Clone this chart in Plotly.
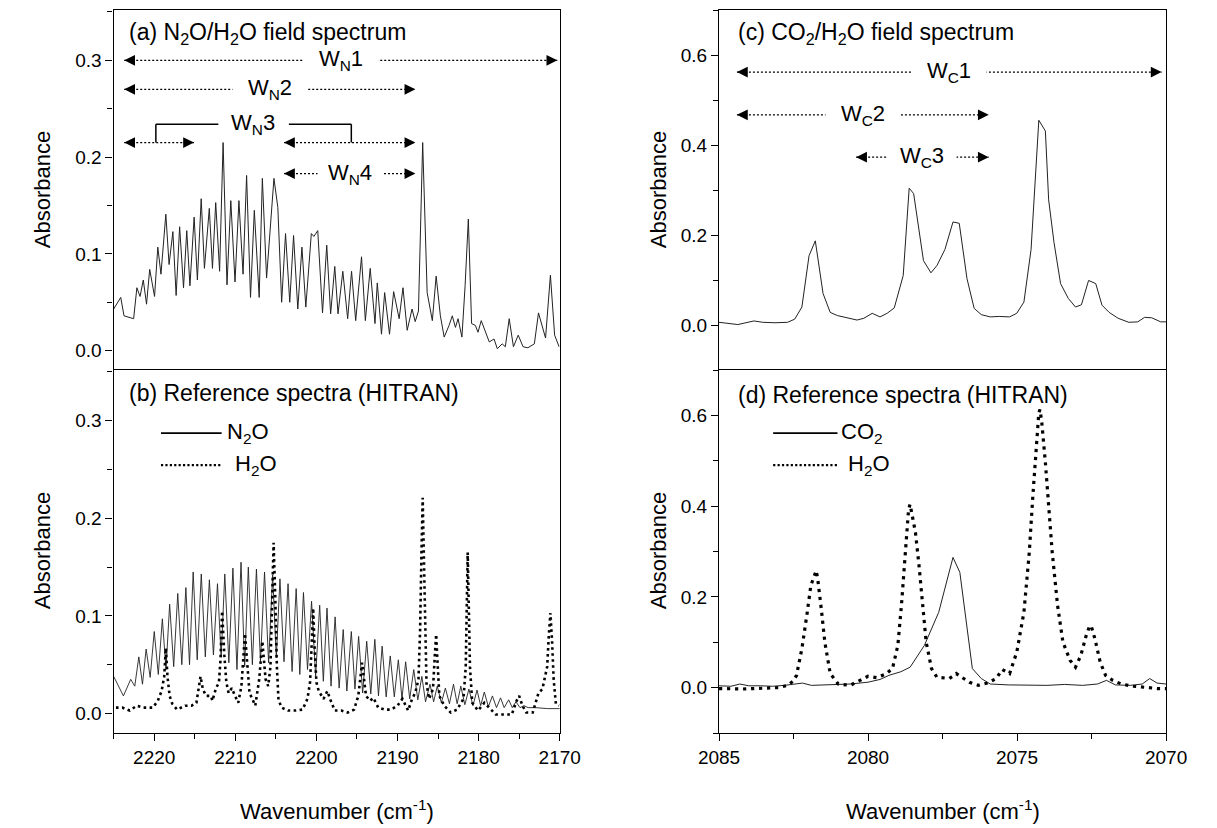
import plotly.graph_objects as go

# ---------------- data ----------------
# (a) N2O/H2O field spectrum
wn_a = [2225.00, 2224.13, 2223.73, 2222.94, 2222.54, 2222.14, 2221.75, 2221.35, 2220.95, 2220.56,
        2219.96, 2219.56, 2219.17, 2218.57, 2218.17, 2217.70, 2217.30, 2216.87, 2216.39, 2215.99,
        2215.60, 2215.08, 2214.68, 2214.21, 2213.81, 2213.21, 2212.82, 2212.42, 2211.94, 2211.51,
        2211.03, 2210.56, 2210.04, 2209.56, 2209.05, 2208.61, 2208.13, 2207.66, 2207.06, 2206.67,
        2206.15, 2205.24, 2204.76, 2204.29, 2203.81, 2203.29, 2202.82, 2202.30, 2201.79, 2201.31,
        2200.63, 2200.32, 2199.84, 2199.25, 2198.73, 2198.25, 2197.74, 2197.34, 2196.75, 2196.15,
        2195.67, 2195.16, 2194.44, 2193.97, 2193.37, 2192.78, 2192.50, 2191.98, 2191.59, 2190.99,
        2190.48, 2189.80, 2189.33, 2188.81, 2188.21, 2187.82, 2187.42, 2186.90, 2186.35, 2185.71,
        2185.24, 2184.72, 2184.25, 2183.65, 2183.25, 2182.86, 2182.54, 2182.06, 2181.67, 2181.27,
        2180.87, 2180.40, 2180.08, 2179.68, 2179.29, 2178.69, 2178.10, 2177.70, 2177.10, 2176.71,
        2176.23, 2175.71, 2175.12, 2174.52, 2173.93, 2173.13, 2172.62, 2171.75, 2171.15, 2170.63,
        2170.08]
abs_a = [0.043, 0.055, 0.036, 0.034, 0.033, 0.065, 0.056, 0.073, 0.048, 0.084,
         0.056, 0.107, 0.079, 0.141, 0.089, 0.123, 0.057, 0.128, 0.065, 0.124,
         0.067, 0.138, 0.073, 0.157, 0.085, 0.147, 0.085, 0.153, 0.082, 0.215,
         0.068, 0.155, 0.071, 0.155, 0.079, 0.181, 0.055, 0.145, 0.055, 0.178,
         0.075, 0.178, 0.148, 0.050, 0.121, 0.050, 0.119, 0.043, 0.107, 0.045,
         0.121, 0.118, 0.124, 0.039, 0.109, 0.038, 0.087, 0.038, 0.082, 0.033,
         0.082, 0.031, 0.097, 0.031, 0.085, 0.028, 0.070, 0.017, 0.060, 0.017,
         0.061, 0.033, 0.065, 0.021, 0.043, 0.030, 0.041, 0.215, 0.060, 0.031,
         0.077, 0.036, 0.014, 0.026, 0.036, 0.024, 0.033, 0.014, 0.067, 0.136,
         0.028, 0.026, 0.019, 0.031, 0.022, 0.009, 0.012, 0.002, 0.007, 0.004,
         0.033, 0.004, 0.016, 0.004, 0.003, 0.007, 0.039, 0.013, 0.078, 0.016,
         0.004]

# (b) HITRAN reference: N2O
wn_b_n2o = [2225.0, 2223.8,
            2222.9, 2222.4, 2221.9, 2221.45, 2221.0, 2220.5, 2220.0, 2219.5, 2219.0, 2218.55,
            2218.1, 2217.6, 2217.1, 2216.6, 2216.1, 2215.65, 2215.2, 2214.7, 2214.2, 2213.7,
            2213.2, 2212.7, 2212.2, 2211.75, 2211.3, 2210.8, 2210.3, 2209.8, 2209.3, 2208.85,
            2208.4, 2207.9, 2207.4, 2206.9, 2206.4, 2205.9, 2205.4, 2204.95, 2204.5, 2204.0,
            2203.5, 2203.0, 2202.5, 2202.05, 2201.6, 2201.1, 2200.6, 2200.1, 2199.6, 2199.15,
            2198.7, 2198.2, 2197.7, 2197.2, 2196.7, 2196.25, 2195.7, 2195.25, 2194.8, 2194.3,
            2193.8, 2193.3, 2192.8, 2192.35, 2191.9, 2191.4, 2190.9, 2190.4, 2189.9, 2189.45,
            2189.0, 2188.5, 2188.0, 2187.5, 2187.0, 2186.55, 2186.0, 2185.55, 2185.1, 2184.6,
            2184.1, 2183.6, 2183.1, 2182.65, 2182.2, 2181.7, 2181.2, 2180.7, 2180.2, 2179.75,
            2179.3, 2178.8, 2178.3, 2177.8, 2177.3, 2176.85, 2176.3, 2175.85, 2175.4, 2174.9,
            2174.4, 2173.9, 2173.0, 2171.5, 2170.0]
abs_b_n2o = [0.038, 0.018,
             0.035, 0.028, 0.058, 0.030, 0.066, 0.037, 0.084, 0.040, 0.097, 0.045,
             0.112, 0.048, 0.123, 0.050, 0.129, 0.050, 0.145, 0.055, 0.143, 0.058,
             0.137, 0.060, 0.133, 0.058, 0.143, 0.052, 0.149, 0.045, 0.155, 0.048,
             0.150, 0.050, 0.148, 0.053, 0.145, 0.052, 0.142, 0.057, 0.138, 0.053,
             0.133, 0.043, 0.128, 0.040, 0.124, 0.045, 0.115, 0.038, 0.111, 0.033,
             0.108, 0.028, 0.099, 0.026, 0.086, 0.023, 0.084, 0.025, 0.079, 0.021,
             0.074, 0.020, 0.076, 0.018, 0.069, 0.017, 0.059, 0.017, 0.055, 0.015,
             0.053, 0.015, 0.045, 0.014, 0.038, 0.012, 0.030, 0.012, 0.028, 0.011,
             0.026, 0.010, 0.030, 0.010, 0.028, 0.009, 0.025, 0.008, 0.024, 0.008,
             0.022, 0.007, 0.018, 0.006, 0.016, 0.006, 0.014, 0.006, 0.012, 0.006,
             0.008, 0.006, 0.006, 0.005, 0.005]

# (b) HITRAN reference: H2O
wn_b_h2o = [2224.72, 2223.93, 2223.02, 2222.14, 2221.35, 2220.16, 2219.56, 2219.09, 2218.77, 2218.57,
            2218.37, 2218.10, 2217.78, 2217.18, 2216.19, 2215.40, 2214.80, 2214.52, 2214.29, 2214.01,
            2213.61, 2213.02, 2212.82, 2212.42, 2212.02, 2211.83, 2211.63, 2211.35, 2211.11, 2210.83,
            2210.44, 2210.04, 2209.64, 2209.25, 2208.97, 2208.81, 2208.57, 2208.25, 2207.86, 2207.54,
            2207.06, 2206.67, 2206.27, 2205.95, 2205.67, 2205.48, 2205.28, 2205.08, 2204.88, 2204.68,
            2204.29, 2203.49, 2202.62, 2201.71, 2201.11, 2200.79, 2200.60, 2200.40, 2200.24, 2200.00,
            2199.72, 2199.13, 2198.65, 2198.33, 2197.74, 2196.94, 2196.15, 2195.36, 2194.84, 2194.52,
            2194.37, 2194.13, 2193.89, 2193.37, 2192.98, 2192.38, 2191.59, 2190.79, 2190.00, 2189.40,
            2189.01, 2188.69, 2188.21, 2187.82, 2187.42, 2187.22, 2187.06, 2186.90, 2186.75, 2186.59,
            2186.43, 2186.11, 2185.63, 2185.40, 2185.24, 2185.04, 2184.84, 2184.25, 2183.45, 2182.66,
            2181.87, 2181.59, 2181.47, 2181.35, 2181.19, 2181.07, 2180.79, 2180.08, 2179.29, 2178.69,
            2177.90, 2176.90, 2175.91, 2175.32, 2175.00, 2174.60, 2174.13, 2173.33, 2172.62, 2172.14,
            2171.55, 2171.35, 2171.15, 2170.95, 2170.75, 2170.48, 2170.08]
abs_b_h2o = [0.006, 0.006, 0.003, 0.008, 0.006, 0.006, 0.013, 0.023, 0.038, 0.067,
             0.038, 0.018, 0.010, 0.004, 0.008, 0.008, 0.011, 0.025, 0.038, 0.025,
             0.018, 0.018, 0.013, 0.025, 0.032, 0.055, 0.105, 0.059, 0.032, 0.021,
             0.026, 0.018, 0.011, 0.028, 0.062, 0.082, 0.055, 0.021, 0.014, 0.008,
             0.035, 0.074, 0.035, 0.028, 0.048, 0.110, 0.175, 0.120, 0.048, 0.014,
             0.006, 0.003, 0.003, 0.004, 0.015, 0.032, 0.070, 0.108, 0.070, 0.032,
             0.023, 0.015, 0.023, 0.015, 0.003, 0.003, 0.001, 0.004, 0.018, 0.042,
             0.052, 0.035, 0.018, 0.013, 0.016, 0.006, 0.004, 0.004, 0.008, 0.015,
             0.008, 0.003, 0.015, 0.021, 0.035, 0.085, 0.160, 0.221, 0.160, 0.085,
             0.031, 0.015, 0.025, 0.060, 0.081, 0.048, 0.018, 0.008, 0.001, 0.004,
             0.015, 0.048, 0.110, 0.165, 0.100, 0.048, 0.011, 0.003, 0.011, 0.006,
             -0.001, -0.001, -0.001, 0.013, 0.018, 0.008, 0.001, 0.001, 0.021, 0.025,
             0.048, 0.080, 0.103, 0.075, 0.035, 0.010, 0.008]

# (c) CO2/H2O field spectrum
wn_c = [2085.00, 2084.79, 2084.37, 2083.83, 2083.53, 2083.12, 2082.70, 2082.46, 2082.22, 2081.98,
        2081.77, 2081.51, 2081.27, 2081.03, 2080.73, 2080.37, 2080.14, 2079.86, 2079.60, 2079.36,
        2079.12, 2078.82, 2078.62, 2078.47, 2078.14, 2077.89, 2077.69, 2077.42, 2077.15, 2076.94,
        2076.68, 2076.44, 2076.20, 2075.90, 2075.60, 2075.25, 2075.01, 2074.77, 2074.53, 2074.27,
        2074.05, 2073.94, 2073.76, 2073.54, 2073.28, 2073.04, 2072.84, 2072.60, 2072.36, 2072.15,
        2071.91, 2071.61, 2071.25, 2070.95, 2070.72, 2070.48, 2070.18, 2070.00]
abs_c = [0.006, 0.004, 0.001, 0.009, 0.006, 0.005, 0.006, 0.013, 0.040, 0.154,
         0.187, 0.070, 0.028, 0.021, 0.016, 0.011, 0.015, 0.026, 0.018, 0.026,
         0.038, 0.110, 0.304, 0.292, 0.143, 0.116, 0.132, 0.168, 0.229, 0.226,
         0.103, 0.037, 0.023, 0.018, 0.019, 0.018, 0.026, 0.051, 0.168, 0.455,
         0.431, 0.278, 0.183, 0.092, 0.059, 0.040, 0.045, 0.099, 0.092, 0.044,
         0.028, 0.015, 0.006, 0.007, 0.017, 0.016, 0.007, 0.007]

# (d) HITRAN reference: CO2
wn_d_co2 = [2085.0, 2084.6, 2084.3, 2084.0, 2083.6, 2083.2, 2082.8, 2082.2, 2081.9, 2081.2,
            2080.6, 2080.0, 2079.6, 2079.3, 2078.9, 2078.59, 2078.11, 2077.63, 2077.33, 2077.15,
            2076.92, 2076.74, 2076.5, 2076.2, 2075.9, 2075.3, 2074.6, 2074.0, 2073.4, 2072.8,
            2072.3, 2072.0, 2071.7, 2071.2, 2070.8, 2070.55, 2070.3, 2070.0]
abs_d_co2 = [0.004, 0.003, 0.008, 0.004, 0.004, 0.003, 0.005, 0.010, 0.005, 0.006,
             0.008, 0.012, 0.018, 0.027, 0.035, 0.045, 0.093, 0.166, 0.240, 0.287,
             0.254, 0.166, 0.042, 0.020, 0.008, 0.006, 0.006, 0.005, 0.007, 0.005,
             0.008, 0.016, 0.006, 0.005, 0.008, 0.020, 0.010, 0.008]

# (d) HITRAN reference: H2O
wn_d_h2o = [2085.0, 2084.6, 2084.2, 2083.8, 2083.4, 2083.0, 2082.7, 2082.5, 2082.4, 2082.22,
            2082.04, 2081.92, 2081.74, 2081.69, 2081.57, 2081.45, 2081.27, 2081.0, 2080.6, 2080.3,
            2080.0, 2079.7, 2079.4, 2079.18, 2079.0, 2078.88, 2078.76, 2078.64, 2078.59, 2078.53,
            2078.41, 2078.29, 2078.17, 2078.05, 2077.87, 2077.69, 2077.27, 2077.04, 2076.86, 2076.6,
            2076.3, 2076.0, 2075.7, 2075.5, 2075.25, 2075.01, 2074.77, 2074.59, 2074.47, 2074.35,
            2074.27, 2074.23, 2074.17, 2074.05, 2073.94, 2073.82, 2073.64, 2073.46, 2073.22, 2073.04,
            2072.86, 2072.68, 2072.56, 2072.50, 2072.39, 2072.21, 2072.03, 2071.79, 2071.5, 2071.1,
            2070.6, 2070.3, 2070.0]
abs_d_h2o = [-0.002, -0.003, -0.003, -0.002, -0.001, 0.000, 0.005, 0.015, 0.027, 0.086,
             0.166, 0.225, 0.258, 0.240, 0.174, 0.100, 0.031, 0.008, 0.005, 0.015,
             0.025, 0.022, 0.030, 0.042, 0.093, 0.181, 0.298, 0.393, 0.404, 0.386,
             0.342, 0.269, 0.174, 0.100, 0.042, 0.023, 0.020, 0.031, 0.023, 0.012,
             0.005, 0.010, 0.020, 0.040, 0.031, 0.078, 0.166, 0.298, 0.423, 0.533,
             0.606, 0.613, 0.584, 0.496, 0.401, 0.298, 0.181, 0.100, 0.060, 0.045,
             0.071, 0.115, 0.137, 0.133, 0.108, 0.056, 0.027, 0.016, 0.008, 0.003,
             0.000, -0.002, -0.002]

# analysis windows: (label, start, end, level)
n_windows = [("W<sub>N</sub>1", 2223.7, 2170.3, 0.300),
             ("W<sub>N</sub>2", 2223.7, 2187.8, 0.270),
             ("W<sub>N</sub>4", 2204.0, 2187.8, 0.183)]
n_window3 = [(2223.7, 2215.1), (2204.0, 2187.8)]
c_windows = [("W<sub>C</sub>1", 2084.4, 2070.15, 0.562),
             ("W<sub>C</sub>2", 2084.4, 2075.95, 0.467),
             ("W<sub>C</sub>3", 2080.4, 2075.95, 0.373)]

FONT = "Liberation Sans, Arial, sans-serif"
W, H = 1217, 828
LEFT = [96 / W, 558 / W]
RIGHT = [723 / W, 1186 / W]
TOP = [1 - 370 / H, 1 - 10 / H]
BOT = [1 - 733 / H, 1 - 370 / H]

fig = go.Figure()

line_thin = dict(color="#222222", width=1)
fig.add_trace(go.Scatter(x=wn_a, y=abs_a, mode="lines", line=line_thin, xaxis="x", yaxis="y"))
fig.add_trace(go.Scatter(x=wn_b_n2o, y=abs_b_n2o, mode="lines", line=dict(color="#222222", width=0.9),
                         xaxis="x2", yaxis="y2"))
fig.add_trace(go.Scatter(x=wn_b_h2o, y=abs_b_h2o, mode="lines",
                         line=dict(color="black", width=2.6, dash="2.6px,3.4px"), xaxis="x2", yaxis="y2"))
fig.add_trace(go.Scatter(x=wn_c, y=abs_c, mode="lines", line=line_thin, xaxis="x3", yaxis="y3"))
fig.add_trace(go.Scatter(x=wn_d_co2, y=abs_d_co2, mode="lines", line=line_thin, xaxis="x4", yaxis="y4"))
fig.add_trace(go.Scatter(x=wn_d_h2o, y=abs_d_h2o, mode="lines",
                         line=dict(color="black", width=3.2, dash="3.2px,4.8px"), xaxis="x4", yaxis="y4"))

shapes = []
annotations = []
dotted = dict(color="black", width=1.2, dash="2px,2px")
label_font = dict(family=FONT, size=22, color="black")


def add_arrow(xr, yr, x0, x1, y):
    """dotted double arrow from x0 to x1 (x0 on the left of the plot)"""
    shapes.append(dict(type="line", xref=xr, yref=yr, x0=x0, x1=x1, y0=y, y1=y, line=dotted))
    for xt, ax in ((x0, 12), (x1, -12)):
        annotations.append(dict(x=xt, y=y, xref=xr, yref=yr, ax=ax, ay=0, axref="pixel", ayref="pixel",
                                text="", showarrow=True, arrowhead=2, arrowsize=1.8, arrowwidth=1.2,
                                arrowcolor="black"))


def add_window(xr, yr, label, x0, x1, y, half_gap):
    mid = (x0 + x1) / 2
    add_arrow(xr, yr, x0, x1, y)
    # white box under the label breaks the dotted line
    annotations.append(dict(x=mid, y=y, xref=xr, yref=yr, text=label, showarrow=False,
                            xanchor="center", yanchor="middle",
                            font=label_font, bgcolor="white", borderpad=0,
                            width=half_gap * 2, align="center"))


for lab, x0, x1, y in n_windows:
    add_window("x", "y", lab, x0, x1, y, 37 if lab.endswith("1") or lab.endswith("2") else 32)
for x0, x1 in n_window3:
    add_arrow("x", "y", x0, x1, 0.215)
# bracket joining the two W_N3 parts
br = dict(color="black", width=1.5)
shapes.append(dict(type="line", xref="x", yref="y", x0=2219.8, x1=2219.8, y0=0.215, y1=0.234, line=br))
shapes.append(dict(type="line", xref="x", yref="y", x0=2219.8, x1=2212.1, y0=0.234, y1=0.234, line=br))
shapes.append(dict(type="line", xref="x", yref="y", x0=2203.4, x1=2195.7, y0=0.234, y1=0.234, line=br))
shapes.append(dict(type="line", xref="x", yref="y", x0=2195.7, x1=2195.7, y0=0.234, y1=0.215, line=br))
annotations.append(dict(x=2207.8, y=0.234, xref="x", yref="y", text="W<sub>N</sub>3", showarrow=False,
                        xanchor="center", yanchor="middle", font=label_font))

for lab, x0, x1, y in c_windows:
    add_window("x3", "y3", lab, x0, x1, y, 37 if lab.endswith("1") or lab.endswith("2") else 34)

# panel titles
titles = [("x", "y", 0.03, 0.936, "(a) N<sub>2</sub>O/H<sub>2</sub>O field spectrum"),
          ("x2", "y2", 0.03, 0.936, "(b) Reference spectra (HITRAN)"),
          ("x3", "y3", 0.038, 0.936, "(c) CO<sub>2</sub>/H<sub>2</sub>O field spectrum"),
          ("x4", "y4", 0.038, 0.931, "(d) Reference spectra (HITRAN)")]
for xr, yr, x, y, t in titles:
    annotations.append(dict(x=x, y=y, xref=xr + " domain", yref=yr + " domain", text=t, showarrow=False,
                            xanchor="left", yanchor="middle", font=dict(family=FONT, size=23, color="black")))

# hand-made legends in (b) and (d)
legends = [("x2", "y2", 0.106, 0.242, "N<sub>2</sub>O", "H<sub>2</sub>O", 0.249, 0.268),
           ("x4", "y4", 0.121, 0.265, "CO<sub>2</sub>", "H<sub>2</sub>O", 0.268, 0.285)]
for xr, yr, lx0, lx1, t1, t2, tx1, tx2 in legends:
    shapes.append(dict(type="line", xref=xr + " domain", yref=yr + " domain", x0=lx0, x1=lx1,
                       y0=0.826, y1=0.826, line=dict(color="black", width=1.8)))
    shapes.append(dict(type="line", xref=xr + " domain", yref=yr + " domain", x0=lx0, x1=lx1,
                       y0=0.738, y1=0.738, line=dict(color="black", width=2.2, dash="2.2px,2.2px")))
    annotations.append(dict(x=tx1, y=0.826, xref=xr + " domain", yref=yr + " domain", text=t1,
                            showarrow=False, xanchor="left", yanchor="middle", font=label_font))
    annotations.append(dict(x=tx2, y=0.738, xref=xr + " domain", yref=yr + " domain", text=t2,
                            showarrow=False, xanchor="left", yanchor="middle", font=label_font))

# axis titles
for x in (22 / W, 660 / W):
    for y in (1 - 190 / H, 1 - 551 / H):
        annotations.append(dict(x=x, y=y, xref="paper", yref="paper", text="Absorbance", textangle=-90,
                                xanchor="center", yanchor="middle", showarrow=False,
                                font=dict(family=FONT, size=22, color="black")))
for x in (327 / W, 954.5 / W):
    annotations.append(dict(x=x, y=1 - 810 / H, xref="paper", yref="paper",
                            text="Wavenumber (cm<sup>-1</sup>)", showarrow=False,
                            xanchor="center", yanchor="middle",
                            font=dict(family=FONT, size=22, color="black")))

axis_common = dict(showline=True, linecolor="black", linewidth=1.4, showgrid=False,
                   zeroline=False, tickfont=dict(family=FONT, size=19, color="black"),
                   tickcolor="black", tickwidth=1.4)


def yax(domain, anchor, rng, dtick, minor):
    return dict(axis_common, domain=domain, anchor=anchor, range=rng, dtick=dtick, tick0=0,
                mirror=True, tickformat=".1f", ticks="outside", ticklen=7,
                minor=dict(dtick=minor, tick0=0, ticks="outside", ticklen=5, tickwidth=1.2, tickcolor="black"))


def xax(domain, anchor, rng, dtick, minor, labels):
    d = dict(axis_common, domain=domain, anchor=anchor, range=rng)
    if labels:
        # bottom panel: its mirrored top line is the divider between the panels
        d.update(mirror=True, dtick=dtick, tick0=rng[1], ticks="outside", ticklen=7,
                 minor=dict(dtick=minor, tick0=rng[1], ticks="outside", ticklen=5, tickwidth=1.2,
                            tickcolor="black"))
    else:
        # top panel: only the upper frame line
        d.update(side="top", mirror=False, showticklabels=False, ticks="")
    return d


fig.update_layout(
    width=W, height=H, margin=dict(l=0, r=0, t=0, b=0),
    paper_bgcolor="white", plot_bgcolor="white", showlegend=False,
    font=dict(family=FONT, color="black"),
    xaxis=xax(LEFT, "y", [2225, 2170], 10, 5, False),
    yaxis=yax(TOP, "x", [-0.02, 0.352], 0.1, 0.05),
    xaxis2=xax(LEFT, "y2", [2225, 2170], 10, 5, True),
    yaxis2=yax(BOT, "x2", [-0.02, 0.352], 0.1, 0.05),
    xaxis3=xax(RIGHT, "y3", [2085, 2070], 5, 2.5, False),
    yaxis3=yax(TOP, "x3", [-0.1, 0.7], 0.2, 0.1),
    xaxis4=xax(RIGHT, "y4", [2085, 2070], 5, 2.5, True),
    yaxis4=yax(BOT, "x4", [-0.1, 0.7], 0.2, 0.1),
    shapes=shapes, annotations=annotations,
)

# the page's default 8px body margin would shift the whole figure
fig.write_html("out.html", config={"displayModeBar": False},
               post_script="document.body.style.margin='0px'; document.body.style.overflow='hidden';")
